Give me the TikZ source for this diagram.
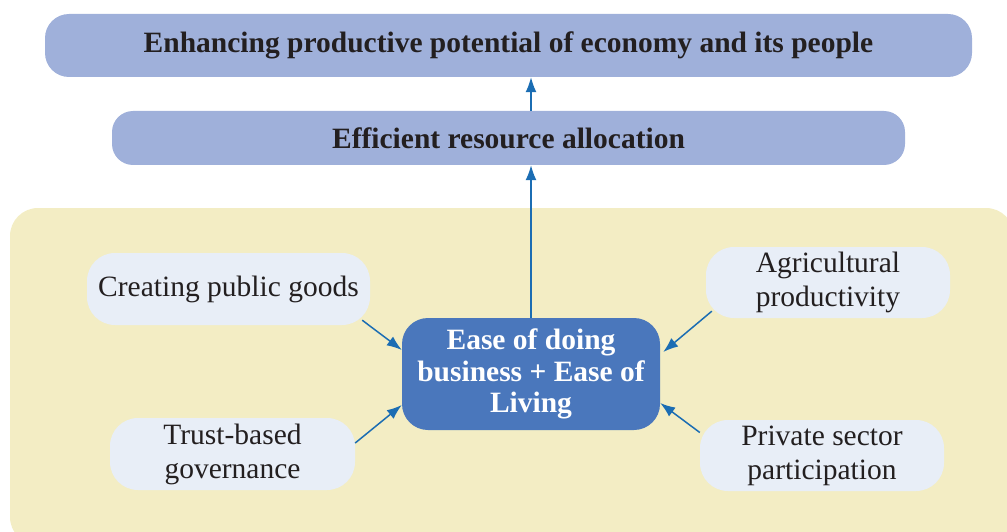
\documentclass[tikz,border=0pt]{standalone}
\usepackage{fontspec}
\setmainfont{Liberation Serif}
\usetikzlibrary{arrows.meta, positioning}

\definecolor{bandblue}{HTML}{9FB0DA}
\definecolor{coreblue}{HTML}{4A77BC}
\definecolor{paleblue}{HTML}{E8EEF7}
\definecolor{sandbg}{HTML}{F3EDC4}
\definecolor{arrowblue}{HTML}{1B6DB3}
\definecolor{inkgrey}{HTML}{231F20}

\begin{document}
\begin{tikzpicture}[
		x=1pt, y=-1pt,
		% bandas superiores
		band/.style = {fill=bandblue, rounded corners=24pt, inner sep=0pt, align=center, text=inkgrey, font=\fontsize{29.5}{34}\selectfont\bfseries},
		% caja central
		core/.style = {fill=coreblue, rounded corners=26pt, inner sep=0pt, minimum width=258pt, minimum height=112pt, align=center, text=white, font=\fontsize{29.5}{31.5}\selectfont\bfseries},
		% factores alrededor
		factor/.style = {fill=paleblue, rounded corners=28pt, inner sep=0pt, minimum width=244pt, minimum height=71pt, align=center, text=inkgrey, font=\fontsize{29.5}{34}\selectfont},
		arr/.style = {draw=arrowblue, line width=1.5pt, -{Latex[length=15pt, width=11pt]}}
		]
		\useasboundingbox (0,0) rectangle (1007,532);
		
		% --- FONDO ---
		\fill [sandbg, rounded corners=28pt] (10,208) rectangle (1014,545);
		
		% --- BANDAS ---
		\node [band, minimum width=927pt, minimum height=63pt] (goal) at (508.5,45.5) {Enhancing productive potential of economy and its people};
		\node [band, minimum width=793pt, minimum height=54pt, rounded corners=21pt] (alloc) at (508.5,138) {Efficient resource allocation};
		
		% --- NUCLEO ---
		\node [core] (ease) at (531,374) {Ease of doing\\business + Ease of\\Living};
		
		% --- FACTORES ---
		\node [factor, minimum width=283pt, minimum height=72pt] (pub) at (228.5,289) {Creating public goods};
		\node [factor] (agri) at (828,282.5) {Agricultural\\productivity};
		\node [factor, minimum width=245pt, minimum height=72pt] (trust) at (232.5,454) {Trust-based\\governance};
		\node [factor] (priv) at (822,455.5) {Private sector\\participation};
		
		% --- CONEXIONES ---
		\draw [arr] (ease.north) -- (ease.north |- alloc.south);
		\draw [arr] (ease.north |- alloc.north) -- (ease.north |- goal.south);
		
		\draw [arr] ([xshift=-8pt, yshift=5pt]pub.south east) -- ([yshift=24pt]ease.west);
		\draw [arr] ([yshift=11pt]trust.east) -- ([yshift=-31pt]ease.west);
		\draw [arr] ([xshift=6pt, yshift=7pt]agri.south west) -- ([xshift=3pt, yshift=22pt]ease.east);
		\draw [arr] ([yshift=23pt]priv.west) -- ([yshift=-29pt]ease.east);
		
	\end{tikzpicture}
\end{document}
